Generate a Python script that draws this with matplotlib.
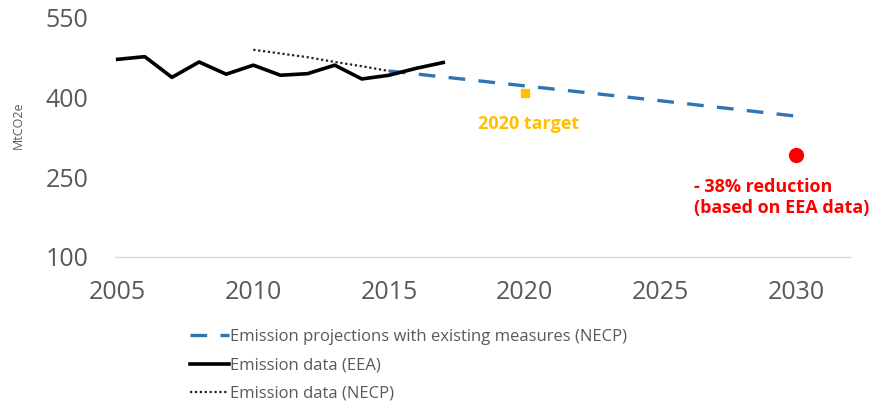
import matplotlib.pyplot as plt

plt.rcParams['font.family'] = ['Open Sans', 'DejaVu Sans']

# Emission data (EEA), MtCO2e
eea_years = [2005, 2006, 2007, 2008, 2009, 2010, 2011, 2012, 2013, 2014, 2015, 2016, 2017]
eea_values = [472, 477, 438, 467, 444, 461, 442, 445, 461, 435, 442, 455, 466]

# Emission data (NECP)
necp_years = [2010, 2011, 2012, 2013, 2014, 2015]
necp_values = [490, 483, 476, 467, 459, 450]

# Emission projections with existing measures (NECP)
proj_years = [2015, 2020, 2025, 2030]
proj_values = [450, 422, 394, 365]

# Targets
target_year = 2020
target_value = 409
reduction_year = 2030
reduction_value = 292

gray = '#595959'

fig = plt.figure(figsize=(8.81, 4.07), dpi=100)
ax = fig.add_axes([0.1305, 0.369, 0.8345, 0.587])

ax.plot(proj_years, proj_values, color='#2E75B6', linewidth=2.4, dashes=(5, 4),
        label='Emission projections with existing measures (NECP)')
ax.plot(eea_years, eea_values, color='black', linewidth=2.6, label='Emission data (EEA)')
ax.plot(necp_years, necp_values, color='#222222', linewidth=1.6, linestyle=(0, (1, 1.2)),
        label='Emission data (NECP)')

ax.plot([target_year], [target_value], marker='s', markersize=6, color='#FFC000', linestyle='none')
ax.plot([reduction_year], [reduction_value], marker='o', markersize=10, color='#FF0000', linestyle='none')

ax.text(target_year + 0.15, target_value - 58, '2020 target', color='#FFC000', fontsize=13,
        fontweight='bold', ha='center', va='center')
ax.text(2026.25, reduction_value - 80, '- 38% reduction\n(based on EEA data)', color='#FF0000',
        fontsize=13, fontweight='bold', ha='left', va='center', linespacing=1.25)

ax.set_xlim(2004.9, 2032)
ax.set_ylim(100, 550)
ax.set_xticks([2005, 2010, 2015, 2020, 2025, 2030])
ax.set_yticks([100, 250, 400, 550])
ax.tick_params(axis='both', length=0, labelsize=18, labelcolor=gray)
ax.tick_params(axis='x', pad=17)
ax.tick_params(axis='y', pad=19)

for side in ['top', 'right', 'left']:
    ax.spines[side].set_visible(False)
ax.spines['bottom'].set_color('#D9D9D9')
ax.spines['bottom'].set_linewidth(1)

fig.text(0.021, 0.693, 'MtCO2e', rotation=90, color=gray, fontsize=9, ha='center', va='center')

fig.legend(loc='upper left', bbox_to_anchor=(0.216, 0.192), frameon=False, fontsize=12,
           labelcolor=gray, handlelength=2.3, handletextpad=0.1, labelspacing=0.75,
           borderaxespad=0, borderpad=0)

fig.savefig('out.png', dpi=100)
